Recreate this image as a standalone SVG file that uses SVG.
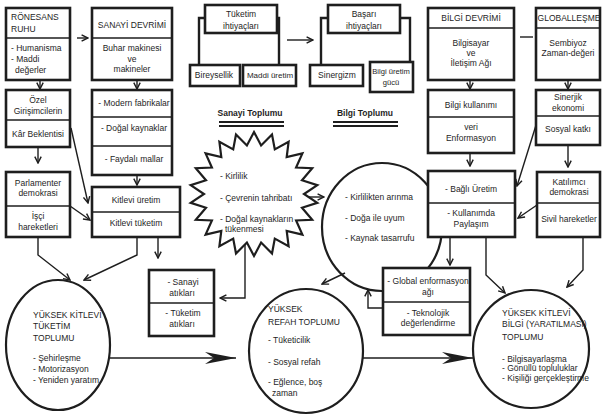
<svg xmlns="http://www.w3.org/2000/svg" width="605" height="415" viewBox="0 0 605 415">
<style>
text{font-family:"Liberation Sans",Arial,Helvetica,sans-serif;font-size:8.5px;fill:#1e1e1e}
.c{text-anchor:middle}
.b{font-weight:bold}
.sm{font-size:7.6px}
.md{font-size:8px}
.box{fill:#fff;stroke:#1e1e1e;stroke-width:2.6}
.dv{stroke:#1e1e1e;stroke-width:1.5}
.ln{fill:none;stroke:#1e1e1e;stroke-width:1.4}
.th{fill:none;stroke:#1e1e1e;stroke-width:2.4}
.ar{marker-end:url(#v)}
.big{marker-end:url(#big)}
.circ{fill:none;stroke:#1e1e1e;stroke-width:2.2}
.dbl{stroke:#1e1e1e;stroke-width:2}
</style>
<defs>
<marker id="v" viewBox="0 0 10 10" refX="9" refY="5" markerWidth="8" markerHeight="8" markerUnits="userSpaceOnUse" orient="auto">
<path d="M1,1 L9,5 L1,9" fill="none" stroke="#1e1e1e" stroke-width="1.8"/>
</marker>
<marker id="big" viewBox="0 0 32 12" refX="31" refY="6" markerWidth="32" markerHeight="12" markerUnits="userSpaceOnUse" orient="auto">
<path d="M31,6 L0,0 L9,6 L0,12 Z" fill="#1e1e1e"/>
</marker>
</defs>
<rect width="605" height="415" fill="#fff"/>

<g id="connectors">
<path class="ln ar" d="M77,38 H88"/>
<path class="ln ar" d="M40,80 V89"/>
<path class="ln ar" d="M137,80 V89"/>
<path class="ln ar" d="M38,147 V163"/>
<path class="ln ar" d="M137,175 V185"/>
<path class="ln ar" d="M71,128 L88,203"/>
<path class="ln ar" d="M70,206 L90,220"/>
<path class="ln ar" d="M38,237 V255 L70,280"/>
<path class="ln ar" d="M137,237 V255 L84,280"/>
<path class="ln ar" d="M158,237 V258"/>
<path class="th" d="M205,18 H199 V65"/>
<path class="th" d="M277,18 H279 V65"/>
<path class="ln ar" d="M287,40 H313"/>
<path class="th" d="M328,18 H321 V65"/>
<path class="th" d="M400,18 H410 V62"/>
<path class="ln" d="M520,37 H533"/>
<path class="ln ar" d="M470,80 V89"/>
<path class="ln ar" d="M568,80 V89"/>
<path class="ln ar" d="M470,153 V166"/>
<path class="ln ar" d="M568,145 V167"/>
<path class="ln ar" d="M537,122 L517,186"/>
<path class="ln ar" d="M537,205 L518,218"/>
<path class="ln ar" d="M450,237 V265"/>
<path class="ln ar" d="M486,237 V275 L505,293"/>
<path class="ln ar" d="M583,237 V270 L567,287"/>
<path class="ln ar" d="M383,308 H368 V290"/>
<path class="ln ar" d="M345,273 L322,284"/>
<path class="ln ar" d="M308,197 H324"/>
<path class="ln ar" d="M245,245 V298 H220"/>
<path class="ln big" d="M108,358 H236"/>
<path class="ln big" d="M363,358 H473"/>
</g>

<g id="labels">
<text class="c b" x="250" y="116">Sanayi Toplumu</text>
<line class="dbl" x1="219" y1="122" x2="284" y2="122"/>
<line class="dbl" x1="219" y1="126" x2="284" y2="126"/>
<text class="c b" x="365" y="116">Bilgi Toplumu</text>
<line class="dbl" x1="333" y1="122" x2="398" y2="122"/>
<line class="dbl" x1="333" y1="126" x2="398" y2="126"/>
</g>

<g id="ronesans">
<rect class="box" x="6" y="8" width="64" height="72"/>
<line class="dv" x1="6" y1="38" x2="70" y2="38"/>
<text x="11" y="20">RÖNESANS</text>
<text x="11" y="32">RUHU</text>
<text x="11" y="51">- Humanisma</text>
<text x="11" y="62">- Maddi</text>
<text x="15" y="73">değerler</text>
</g>

<g id="sanayi-devrimi">
<rect class="box" x="92" y="8" width="80" height="72"/>
<line class="dv" x1="92" y1="38" x2="172" y2="38"/>
<text class="c" x="132" y="28">SANAYİ DEVRİMİ</text>
<text class="c" x="132" y="51">Buhar makinesi</text>
<text class="c" x="132" y="62">ve</text>
<text class="c" x="132" y="72">makineler</text>
</g>

<g id="ozel">
<rect class="box" x="6" y="90" width="64" height="57"/>
<line class="dv" x1="6" y1="120" x2="70" y2="120"/>
<text class="c" x="38" y="103">Özel</text>
<text class="c" x="38" y="114">Girişimcilerin</text>
<text class="c" x="38" y="137">Kâr Beklentisi</text>
</g>

<g id="modern">
<rect class="box" x="92" y="90" width="80" height="85"/>
<line class="dv" x1="92" y1="117" x2="172" y2="117"/>
<line class="dv" x1="92" y1="146" x2="172" y2="146"/>
<text class="c" x="134" y="106">- Modern fabrikalar</text>
<text class="c" x="134" y="131">- Doğal kaynaklar</text>
<text class="c" x="134" y="162">- Faydalı mallar</text>
</g>

<g id="parlamenter">
<rect class="box" x="6" y="172" width="64" height="65"/>
<line class="dv" x1="6" y1="206" x2="70" y2="206"/>
<text class="c" x="38" y="186">Parlamenter</text>
<text class="c" x="38" y="196">demokrasi</text>
<text class="c" x="38" y="219">İşçi</text>
<text class="c" x="38" y="230">hareketleri</text>
</g>

<g id="kitlevi">
<rect class="box" x="92" y="187" width="88" height="50"/>
<line class="dv" x1="92" y1="212" x2="180" y2="212"/>
<text class="c" x="136" y="203">Kitlevi üretim</text>
<text class="c" x="136" y="226">Kitlevi tüketim</text>
</g>

<g id="tuketim-ihtiyaclari">
<rect class="box" x="205" y="5" width="72" height="28"/>
<text class="c" x="241" y="17">Tüketim</text>
<text class="c" x="241" y="29">ihtiyaçları</text>
</g>
<g id="bireysellik">
<rect class="box" x="190" y="65" width="50" height="21"/>
<text class="c" x="214" y="78">Bireysellik</text>
</g>
<g id="maddi-uretim">
<rect class="box" x="243" y="65" width="53" height="21"/>
<text class="c md" x="270" y="78">Maddi üretim</text>
</g>

<g id="basari-ihtiyaclari">
<rect class="box" x="328" y="5" width="72" height="28"/>
<text class="c" x="364" y="17">Başarı</text>
<text class="c" x="364" y="29">ihtiyaçları</text>
</g>
<g id="sinergizm">
<rect class="box" x="310" y="65" width="53" height="21"/>
<text class="c" x="337" y="78">Sinergizm</text>
</g>
<g id="bilgi-uretim">
<rect class="box" x="370" y="62" width="43" height="30"/>
<text class="c sm" x="391" y="74">Bilgi üretim</text>
<text class="c sm" x="391" y="85">gücü</text>
</g>

<g id="bilgi-devrimi">
<rect class="box" x="428" y="8" width="86" height="72"/>
<line class="dv" x1="428" y1="28" x2="514" y2="28"/>
<text class="c" x="471" y="21">BİLGİ DEVRİMİ</text>
<text class="c" x="471" y="46">Bilgisayar</text>
<text class="c" x="471" y="56">ve</text>
<text class="c" x="471" y="66">İletişim Ağı</text>
</g>

<g id="globallesme">
<rect class="box" x="536" y="8" width="64" height="72"/>
<line class="dv" x1="536" y1="28" x2="600" y2="28"/>
<text class="c" x="569" y="21">GLOBALLEŞME</text>
<text class="c" x="568" y="46">Sembiyoz</text>
<text class="c" x="568" y="56">Zaman-değeri</text>
</g>

<g id="bilgi-kullanimi">
<rect class="box" x="428" y="90" width="86" height="63"/>
<line class="dv" x1="428" y1="117" x2="514" y2="117"/>
<text class="c" x="471" y="108">Bilgi kullanımı</text>
<text class="c" x="471" y="130">veri</text>
<text class="c" x="471" y="141">Enformasyon</text>
</g>

<g id="sinerjik">
<rect class="box" x="536" y="90" width="64" height="55"/>
<line class="dv" x1="536" y1="116" x2="600" y2="116"/>
<text class="c" x="568" y="100">Sinerjik</text>
<text class="c" x="568" y="111">ekonomi</text>
<text class="c" x="568" y="132">Sosyal katkı</text>
</g>

<g id="star">
<polygon fill="#fff" stroke="#1e1e1e" stroke-width="2.2" stroke-linejoin="miter" points="254,132 261.1,145.5 272,134.5 274.8,149.4 288.6,141.8 286.7,157 302.4,153.4 296.1,167.5 312.2,168.2 302,180.2 317.3,185.2 304,194 317.3,202.8 302,207.8 312.2,219.8 296.1,220.5 302.4,234.6 286.7,231 288.6,246.2 274.8,238.6 272,253.5 261.1,242.5 254,256 246.9,242.5 236,253.5 233.2,238.6 219.4,246.2 221.3,231 205.6,234.6 211.9,220.5 195.8,219.8 206,207.8 190.7,202.8 204,194 190.7,185.2 206,180.2 195.8,168.2 211.9,167.5 205.6,153.4 221.3,157 219.4,141.8 233.2,149.4 236,134.5 246.9,145.5"/>
<text x="220" y="179">- Kirlilik</text>
<text x="220" y="201">- Çevrenin tahribatı</text>
<text x="220" y="222">- Doğal kaynakların</text>
<text x="225" y="232">tükenmesi</text>
</g>

<g id="bilgi-toplumu-daire">
<ellipse class="circ" cx="382" cy="227" rx="60" ry="64"/>
<text x="345" y="200">- Kirlilikten arınma</text>
<text x="345" y="221">- Doğa ile uyum</text>
<text x="345" y="241">- Kaynak tasarrufu</text>
</g>

<g id="bagli-uretim">
<rect class="box" x="428" y="171" width="87" height="66"/>
<line class="dv" x1="428" y1="203" x2="515" y2="203"/>
<text class="c" x="471" y="192">- Bağlı Üretim</text>
<text class="c" x="471" y="216">- Kullanımda</text>
<text class="c" x="471" y="227">Paylaşım</text>
</g>

<g id="katilimci">
<rect class="box" x="537" y="172" width="63" height="65"/>
<line class="dv" x1="537" y1="203" x2="600" y2="203"/>
<text class="c" x="569" y="185">Katılımcı</text>
<text class="c" x="569" y="195">demokrasi</text>
<text class="c" x="569" y="222">Sivil hareketler</text>
</g>

<g id="global-enformasyon">
<rect class="box" x="383" y="268" width="87" height="67"/>
<line class="dv" x1="383" y1="302" x2="470" y2="302"/>
<text class="c" x="428" y="284">- Global enformasyon</text>
<text class="c" x="428" y="295">ağı</text>
<text class="c" x="428" y="316">- Teknolojik</text>
<text class="c" x="428" y="326">değerlendirme</text>
</g>

<g id="atiklar">
<rect class="box" x="149" y="270" width="65" height="66"/>
<line class="dv" x1="149" y1="303" x2="214" y2="303"/>
<text class="c" x="183" y="285">- Sanayi</text>
<text class="c" x="182" y="296">atıkları</text>
<text class="c" x="183" y="316">- Tüketim</text>
<text class="c" x="182" y="327">atıkları</text>
</g>

<g id="tuketim-toplumu">
<ellipse class="circ" cx="58" cy="345" rx="52" ry="65"/>
<text x="33" y="318">YÜKSEK KİTLEVİ</text>
<text x="33" y="329">TÜKETİM</text>
<text x="33" y="341">TOPLUMU</text>
<text x="33" y="361">- Şehirleşme</text>
<text x="33" y="372">- Motorizasyon</text>
<text x="33" y="383">- Yeniden yaratım</text>
</g>

<g id="refah-toplumu">
<ellipse class="circ" cx="306" cy="351" rx="57" ry="62"/>
<text x="268" y="312">YÜKSEK</text>
<text x="268" y="325">REFAH TOPLUMU</text>
<text x="268" y="343">- Tüketicilik</text>
<text x="268" y="365">- Sosyal refah</text>
<text x="268" y="385">- Eğlence, boş</text>
<text x="272" y="396">zaman</text>
</g>

<g id="bilgi-toplumu">
<ellipse class="circ" cx="531" cy="349" rx="58" ry="59"/>
<text x="502" y="316">YÜKSEK KİTLEVİ</text>
<text x="502" y="327">BİLGİ (YARATILMASI)</text>
<text x="502" y="340">TOPLUMU</text>
<text x="502" y="362">- Bilgisayarlaşma</text>
<text x="502" y="371">- Gönüllü topluluklar</text>
<text x="502" y="381">- Kişiliği gerçekleştirme</text>
</g>
</svg>
